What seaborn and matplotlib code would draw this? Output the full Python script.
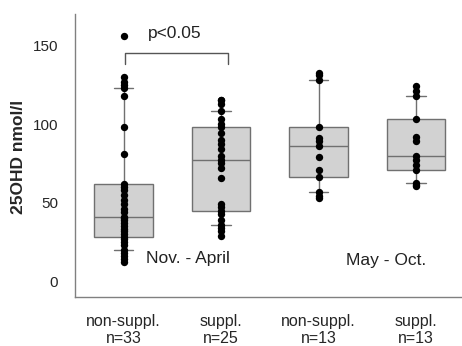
import numpy as np
import pandas as pd
import seaborn as sns
import matplotlib.pyplot as plt

# groups (tick labels) and values (25OHD, nmol/l)
groups = ["non-suppl.\nn=33", "suppl.\nn=25", "non-suppl.\nn=13", "suppl.\nn=13"]

nonsuppl_winter = [12, 14, 16, 18, 20, 23, 25, 27, 28, 30, 32, 33, 35, 37, 39, 40, 41,
                   44, 46, 49, 52, 55, 58, 60, 62, 81, 98, 118, 123, 125, 127, 130, 156]
suppl_winter = [29, 32, 34, 36, 39, 43, 44.5, 47, 49, 66, 72, 75, 77, 80, 84, 87, 90,
                94, 98, 100, 103, 108, 113, 115, 115.5]
nonsuppl_summer = [53, 54.5, 57, 66.5, 70.5, 79, 86, 89, 91, 98, 128, 131, 132.5]
suppl_summer = [60.5, 61, 62.5, 71, 74, 77, 80, 89, 92, 103, 118, 121, 124]

season_labels = ["Nov. - April", "May - Oct."]
p_text = "p<0.05"

series = [nonsuppl_winter, suppl_winter, nonsuppl_summer, suppl_summer]
df = pd.DataFrame({
    "group": np.repeat(groups, [len(s) for s in series]),
    "value": np.concatenate(series),
})

sns.set_style("white")
plt.rcParams["font.family"] = ["Liberation Sans", "DejaVu Sans"]

fig = plt.figure(figsize=(4.62, 3.46), dpi=100)
ax = fig.add_axes([75 / 462, 1 - 297 / 346, 387 / 462, 283 / 346])

# whiskers at 10th / 90th percentile, all points drawn on top
sns.boxplot(data=df, x="group", y="value", order=groups, whis=(10, 90),
            showfliers=False, width=0.6, color="#d2d2d2", saturation=1,
            linecolor="#707070", linewidth=1, capwidths=0.2, ax=ax)
sns.stripplot(data=df, x="group", y="value", order=groups, jitter=False,
              color="black", size=5.3, ax=ax, zorder=5)

# significance bracket
ax.plot([0.01, 0.01, 1.066, 1.066], [138.5, 145.4, 145.4, 138.5],
        color="#555555", lw=1)
ax.text(0.524, 157.5, p_text, ha="center", va="center", fontsize=12.5, color="#222222")
ax.text(0.657, 14.5, season_labels[0], ha="center", va="center", fontsize=12.5, color="#222222")
ax.text(2.69, 13.5, season_labels[1], ha="center", va="center", fontsize=12.5, color="#222222")

ax.set_xlim(-0.5, 3.47)
ax.set_ylim(-10, 170)
ax.set_yticks([0, 50, 100, 150])
ax.set_xlabel("")
ax.set_ylabel("25OHD nmol/l", fontweight="bold", fontsize=12.5)
ax.yaxis.set_label_coords(-0.127, 0.494)

for s in ["top", "right"]:
    ax.spines[s].set_visible(False)
for s in ["left", "bottom"]:
    ax.spines[s].set_color("#808080")
    ax.spines[s].set_linewidth(1)

ax.tick_params(axis="y", length=3, color="#808080", pad=9, labelsize=11)
ax.tick_params(axis="x", length=2, color="#808080", pad=10, labelsize=11.5)

fig.savefig("out.png", dpi=100)
